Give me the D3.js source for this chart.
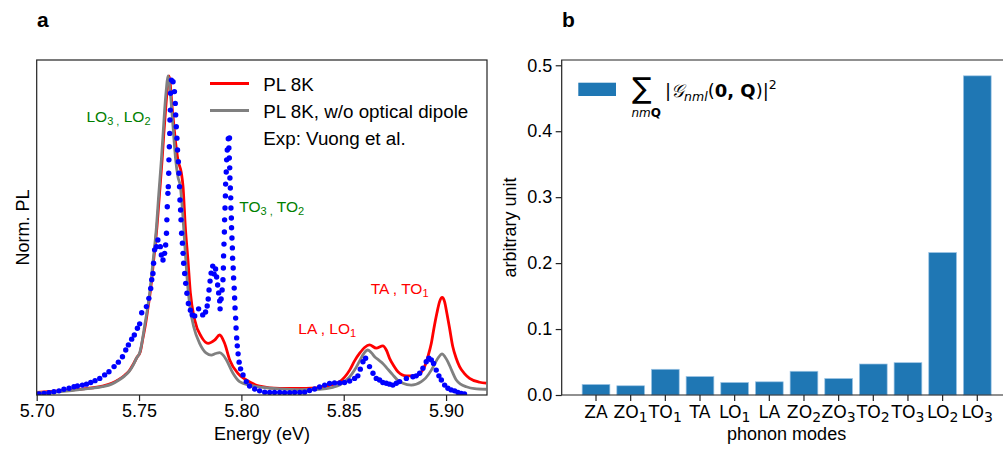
<!DOCTYPE html>
<html>
<head>
<meta charset="utf-8">
<script src="https://cdn.jsdelivr.net/npm/d3@7"></script>
<style>
  body { margin: 0; background: #fff; }
  svg { display: block; font-family: "Liberation Sans", Arial, sans-serif; }
</style>
</head>
<body>
<svg id="fig" width="1003" height="450"></svg>
<script>
// ——— panel a : PL spectra (energy eV, normalised PL)
const plRed = [
  [5.7000,0.008],[5.7073,0.011],[5.7158,0.015],[5.7239,0.020],[5.7321,0.028],[5.7366,0.037],
  [5.7402,0.049],[5.7430,0.062],[5.7451,0.075],[5.7474,0.099],[5.7491,0.119],[5.7506,0.135],
  [5.7520,0.182],[5.7531,0.219],[5.7543,0.270],[5.7555,0.323],[5.7571,0.420],[5.7588,0.530],
  [5.7600,0.630],[5.7613,0.740],[5.7621,0.818],[5.7630,0.897],[5.7638,0.959],[5.7646,1.000],
  [5.7663,0.893],[5.7679,0.789],[5.7690,0.737],[5.7707,0.695],[5.7715,0.653],[5.7726,0.528],
  [5.7739,0.423],[5.7751,0.319],[5.7772,0.235],[5.7804,0.183],[5.7837,0.162],[5.7869,0.172],
  [5.7894,0.188],[5.7918,0.162],[5.7943,0.110],[5.7983,0.068],[5.8024,0.047],[5.8089,0.028],
  [5.8187,0.021],[5.8317,0.021],[5.8415,0.028],[5.8480,0.042],[5.8529,0.078],[5.8553,0.107],
  [5.8578,0.131],[5.8602,0.149],[5.8626,0.157],[5.8659,0.147],[5.8691,0.154],[5.8708,0.141],
  [5.8724,0.115],[5.8744,0.092],[5.8765,0.073],[5.8806,0.060],[5.8854,0.060],[5.8875,0.069],
  [5.8895,0.089],[5.8912,0.122],[5.8928,0.162],[5.8941,0.210],[5.8955,0.256],[5.8968,0.292],
  [5.8981,0.306],[5.8993,0.292],[5.9004,0.256],[5.9017,0.210],[5.9033,0.151],[5.9049,0.116],
  [5.9066,0.089],[5.9090,0.067],[5.9115,0.052],[5.9164,0.040],[5.9196,0.037]
];

const plGray = [
  [5.7000,0.007],[5.7073,0.009],[5.7158,0.013],[5.7239,0.019],[5.7321,0.026],[5.7366,0.034],
  [5.7402,0.047],[5.7430,0.060],[5.7451,0.073],[5.7474,0.097],[5.7488,0.116],[5.7503,0.132],
  [5.7518,0.179],[5.7527,0.216],[5.7540,0.266],[5.7552,0.320],[5.7568,0.417],[5.7585,0.527],
  [5.7596,0.627],[5.7609,0.737],[5.7617,0.815],[5.7625,0.893],[5.7633,0.956],[5.7641,1.000],
  [5.7653,0.946],[5.7666,0.841],[5.7679,0.737],[5.7690,0.684],[5.7702,0.653],[5.7712,0.580],
  [5.7723,0.476],[5.7734,0.371],[5.7751,0.266],[5.7767,0.214],[5.7796,0.162],[5.7829,0.131],
  [5.7853,0.125],[5.7874,0.130],[5.7894,0.133],[5.7911,0.125],[5.7927,0.110],[5.7959,0.068],
  [5.7991,0.042],[5.8040,0.031],[5.8104,0.024],[5.8187,0.019],[5.8285,0.017],[5.8382,0.018],
  [5.8447,0.024],[5.8480,0.031],[5.8513,0.047],[5.8529,0.057],[5.8553,0.078],[5.8578,0.107],
  [5.8597,0.129],[5.8618,0.141],[5.8636,0.132],[5.8651,0.120],[5.8670,0.110],[5.8691,0.099],
  [5.8714,0.082],[5.8740,0.063],[5.8763,0.047],[5.8789,0.037],[5.8830,0.031],[5.8879,0.042],
  [5.8900,0.053],[5.8928,0.078],[5.8944,0.097],[5.8960,0.115],[5.8981,0.129],[5.8995,0.119],
  [5.9009,0.104],[5.9027,0.078],[5.9050,0.047],[5.9071,0.034],[5.9099,0.026],[5.9139,0.020],
  [5.9196,0.018]
];

const expVuong = [
  [5.7011,0.003],[5.7036,0.005],[5.7060,0.007],[5.7084,0.010],[5.7109,0.013],[5.7133,0.018],
  [5.7158,0.021],[5.7182,0.026],[5.7199,0.028],[5.7223,0.031],[5.7243,0.034],[5.7264,0.039],
  [5.7285,0.045],[5.7308,0.052],[5.7332,0.063],[5.7353,0.073],[5.7378,0.089],[5.7399,0.103],
  [5.7419,0.120],[5.7435,0.141],[5.7448,0.157],[5.7464,0.175],[5.7477,0.188],[5.7492,0.209],
  [5.7503,0.223],[5.7513,0.258],[5.7536,0.277],[5.7548,0.303],[5.7557,0.334],[5.7562,0.361],
  [5.7568,0.381],[5.7571,0.413],[5.7576,0.455],[5.7585,0.465],[5.7592,0.486],[5.7604,0.465],
  [5.7609,0.439],[5.7617,0.423],[5.7625,0.444],[5.7630,0.470],[5.7634,0.507],[5.7636,0.549],
  [5.7638,0.590],[5.7641,0.632],[5.7643,0.653],[5.7645,0.695],[5.7646,0.737],[5.7648,0.778],
  [5.7650,0.820],[5.7651,0.862],[5.7653,0.893],[5.7654,0.946],[5.7658,0.987],[5.7666,0.982],
  [5.7673,0.951],[5.7677,0.914],[5.7679,0.878],[5.7682,0.841],[5.7685,0.805],[5.7688,0.768],
  [5.7692,0.731],[5.7695,0.695],[5.7698,0.653],[5.7700,0.611],[5.7703,0.580],[5.7705,0.549],
  [5.7708,0.507],[5.7712,0.476],[5.7715,0.444],[5.7718,0.413],[5.7723,0.381],[5.7728,0.350],
  [5.7734,0.319],[5.7741,0.287],[5.7751,0.266],[5.7760,0.251],[5.7772,0.248],
  [5.7791,0.270],[5.7811,0.251],[5.7825,0.260],[5.7833,0.279],[5.7838,0.301],[5.7842,0.329],
  [5.7847,0.357],[5.7852,0.382],[5.7860,0.404],[5.7867,0.379],[5.7874,0.395],[5.7879,0.370],
  [5.7884,0.345],[5.7889,0.320],[5.7894,0.295],[5.7896,0.270],[5.7901,0.301],[5.7906,0.329],
  [5.7910,0.361],[5.7912,0.398],[5.7913,0.436],[5.7915,0.473],[5.7917,0.511],[5.7918,0.549],
  [5.7920,0.586],[5.7922,0.624],[5.7923,0.661],[5.7926,0.699],[5.7928,0.737],[5.7931,0.768],
  [5.7936,0.803],[5.7939,0.774],[5.7941,0.743],[5.7943,0.712],[5.7944,0.680],[5.7946,0.649],
  [5.7948,0.618],[5.7949,0.586],[5.7951,0.555],[5.7952,0.524],[5.7954,0.492],[5.7956,0.461],
  [5.7957,0.429],[5.7960,0.398],[5.7962,0.367],[5.7965,0.335],[5.7967,0.304],[5.7969,0.273],
  [5.7972,0.241],[5.7974,0.210],[5.7977,0.179],[5.7980,0.154],[5.7984,0.129],[5.7989,0.103],
  [5.7996,0.082],[5.8008,0.063],[5.8024,0.042],[5.8040,0.028],[5.8065,0.019],[5.8089,0.013],
  [5.8114,0.009],[5.8138,0.008],[5.8162,0.008],[5.8187,0.008],[5.8211,0.007],[5.8236,0.007],
  [5.8260,0.008],[5.8285,0.008],[5.8309,0.009],[5.8333,0.014],[5.8358,0.019],[5.8382,0.025],
  [5.8407,0.031],[5.8431,0.036],[5.8455,0.038],[5.8480,0.038],[5.8504,0.039],[5.8529,0.044],
  [5.8553,0.052],[5.8569,0.060],[5.8581,0.081],[5.8594,0.104],[5.8607,0.115],[5.8626,0.089],
  [5.8643,0.068],[5.8659,0.052],[5.8675,0.047],[5.8691,0.039],[5.8708,0.037],[5.8724,0.034],
  [5.8740,0.031],[5.8757,0.037],[5.8773,0.042],[5.8806,0.052],[5.8838,0.057],[5.8854,0.060],
  [5.8871,0.068],[5.8887,0.084],[5.8903,0.104],[5.8916,0.115],[5.8928,0.110],[5.8939,0.099],
  [5.8952,0.078],[5.8965,0.060],[5.8977,0.047],[5.8993,0.031],[5.9009,0.021],[5.9025,0.016],
  [5.9042,0.013],[5.9058,0.008],[5.9074,0.005],[5.9090,0.003]
];

const energyTicks = [5.70, 5.75, 5.80, 5.85, 5.90];

// ——— panel b : coupling strength per phonon mode
const modes = ["ZA","ZO1","TO1","TA","LO1","LA","ZO2","ZO3","TO2","TO3","LO2","LO3"];
const modeValues = [0.016, 0.014, 0.039, 0.028, 0.019, 0.020, 0.036, 0.025, 0.047, 0.049, 0.216, 0.484];
const unitTicks = [0, 0.1, 0.2, 0.3, 0.4, 0.5];

const svg = d3.select("#fig");
const AX = "#222";

// texte avec indices : parts = [[txt, isSub], ...]
function subText(t, parts, subSize, shift) {
  let low = false;
  parts.forEach(([s, sub]) => {
    const ts = t.append("tspan").text(s);
    if (sub && !low) { ts.attr("dy", shift).attr("font-size", subSize); low = true; }
    else if (sub) { ts.attr("font-size", subSize); }
    else if (!sub && low) { ts.attr("dy", -shift); low = false; }
  });
  return t;
}

// ================= panel a
const xa = d3.scaleLinear().domain([5.70, 5.92]).range([36.7, 487]);
const ya = d3.scaleLinear().domain([0, 1.05]).range([395, 60]);

svg.append("clipPath").attr("id", "clipA")
  .append("rect").attr("x", 36.7).attr("y", 60).attr("width", 450.3).attr("height", 335);

const ga = svg.append("g");
const plot = ga.append("g").attr("clip-path", "url(#clipA)");
const line = d3.line().x(d => xa(d[0])).y(d => ya(d[1])).curve(d3.curveMonotoneX);

plot.append("path").datum(plRed).attr("d", line)
  .attr("fill", "none").attr("stroke", "red").attr("stroke-width", 2.8);
plot.append("path").datum(plGray).attr("d", line)
  .attr("fill", "none").attr("stroke", "#808080").attr("stroke-width", 2.8);
plot.selectAll("circle").data(expVuong).enter().append("circle")
  .attr("cx", d => xa(d[0])).attr("cy", d => ya(d[1])).attr("r", 2.7).attr("fill", "blue");

ga.append("rect").attr("x", 36.7).attr("y", 60).attr("width", 450.3).attr("height", 335)
  .attr("fill", "none").attr("stroke", AX).attr("stroke-width", 1.2);

const axA = ga.append("g").attr("transform", "translate(0,395)")
  .call(d3.axisBottom(xa).tickValues(energyTicks).tickFormat(d3.format(".2f"))
    .tickSize(6).tickPadding(3.5).tickSizeOuter(0));
axA.select(".domain").remove();
axA.selectAll("line").attr("stroke", AX).attr("stroke-width", 1.2);
axA.selectAll("text").attr("font-size", 18).attr("font-family", "Liberation Sans, Arial, sans-serif").attr("fill", "#000");

ga.append("text").attr("x", 261.9).attr("y", 440).attr("text-anchor", "middle")
  .attr("font-size", 18).text("Energy (eV)");
ga.append("text").attr("transform", "translate(29,227.5) rotate(-90)").attr("text-anchor", "middle")
  .attr("font-size", 18).text("Norm. PL");
svg.append("text").attr("x", 37).attr("y", 27).attr("font-size", 21).attr("font-weight", "bold").text("a");

// légende a
const legA = [
  { label: "PL 8K", color: "red", y: 83.5 },
  { label: "PL 8K, w/o optical dipole", color: "#808080", y: 110.5 }
];
legA.forEach(d => {
  ga.append("line").attr("x1", 210).attr("x2", 249).attr("y1", d.y).attr("y2", d.y)
    .attr("stroke", d.color).attr("stroke-width", 2.8);
  ga.append("text").attr("x", 263.3).attr("y", d.y + 7).attr("font-size", 18.8).text(d.label);
});
ga.append("circle").attr("cx", 229.5).attr("cy", 138).attr("r", 2.7).attr("fill", "blue");
ga.append("text").attr("x", 263.3).attr("y", 144.5).attr("font-size", 18.8).text("Exp: Vuong et al.");

// annotations des pics
const notes = [
  { x: 86.5, y: 121.5, color: "green", parts: [["LO"],["3",1],[" ,",1],[" LO"],["2",1]] },
  { x: 239.3, y: 211.5, color: "green", parts: [["TO"],["3",1],[" ,",1],[" TO"],["2",1]] },
  { x: 298.3, y: 334.3, color: "red", parts: [["LA , LO"],["1",1]] },
  { x: 370.7, y: 294.3, color: "red", parts: [["TA , TO"],["1",1]] }
];
notes.forEach(n => {
  const t = ga.append("text").attr("x", n.x).attr("y", n.y).attr("fill", n.color).attr("font-size", 15.5);
  subText(t, n.parts, 11, 3);
});

// ================= panel b
const xb = d3.scaleBand().domain(modes).range([561.7, 1011.6]).paddingInner(0.2).paddingOuter(0.59);
const yb = d3.scaleLinear().domain([0, 0.508]).range([395, 60]);
const gb = svg.append("g");

gb.selectAll(".bar").data(modes).enter().append("rect").attr("class", "bar")
  .attr("x", d => xb(d)).attr("width", xb.bandwidth())
  .attr("y", (d, i) => yb(modeValues[i])).attr("height", (d, i) => yb(0) - yb(modeValues[i]))
  .attr("fill", "#1f77b4").attr("stroke", "#9cc4e4").attr("stroke-width", 0.7);

gb.append("path").attr("d", "M1011.6,60H561.7V395H1011.6")
  .attr("fill", "none").attr("stroke", AX).attr("stroke-width", 1.2);

const ayB = gb.append("g").attr("transform", "translate(561.7,0)")
  .call(d3.axisLeft(yb).tickValues(unitTicks).tickFormat(d3.format(".1f"))
    .tickSize(6).tickPadding(3.5).tickSizeOuter(0));
ayB.select(".domain").remove();
ayB.selectAll("line").attr("stroke", AX).attr("stroke-width", 1.2);
ayB.selectAll("text").attr("font-size", 18).attr("font-family", "Liberation Sans, Arial, sans-serif").attr("fill", "#000");

const axB = gb.append("g").attr("transform", "translate(0,395)")
  .call(d3.axisBottom(xb).tickSize(6).tickFormat("").tickSizeOuter(0));
axB.select(".domain").remove();
axB.selectAll("line").attr("stroke", AX).attr("stroke-width", 1.2);
axB.selectAll(".tick text").remove();
axB.selectAll(".tick").each(function (d) {
  const m = d.match(/^([A-Z]+)(\d?)$/);
  const t = d3.select(this).append("text").attr("y", 23.3).attr("text-anchor", "middle")
    .attr("font-family", "DejaVu Sans, sans-serif").attr("font-size", 17.2).attr("fill", "#000");
  subText(t, m[2] ? [[m[1]], [m[2], 1]] : [[m[1]]], 14, 3.5);
});

gb.append("text").attr("x", 786.6).attr("y", 439.5).attr("text-anchor", "middle")
  .attr("font-size", 18).text("phonon modes");
gb.append("text").attr("transform", "translate(516,227.5) rotate(-90)").attr("text-anchor", "middle")
  .attr("font-size", 18).text("arbitrary unit");
svg.append("text").attr("x", 562).attr("y", 27).attr("font-size", 21).attr("font-weight", "bold").text("b");

// légende b : ∑_nmQ |G_nml(0,Q)|²
gb.append("rect").attr("x", 578.3).attr("y", 82.7).attr("width", 37.7).attr("height", 13.3).attr("fill", "#1f77b4");
const fm = gb.append("g").attr("font-family", "DejaVu Sans, sans-serif").attr("fill", "#000");
fm.append("text").attr("x", 632).attr("y", 98).attr("font-size", 29).text("\u2211");
const sb = fm.append("text").attr("x", 631.5).attr("y", 116.5).attr("font-size", 12);
sb.append("tspan").attr("font-style", "italic").text("nm");
sb.append("tspan").attr("font-weight", "bold").text("Q");
const ft = fm.append("text").attr("x", 665).attr("y", 96.5).attr("font-size", 18);
ft.append("tspan").text("|");
ft.append("tspan").attr("font-style", "italic").text("\uD835\uDCA2");
ft.append("tspan").attr("font-style", "italic").attr("font-size", 12.5).attr("dy", 4).text("nml");
ft.append("tspan").attr("dy", -4).text("(");
ft.append("tspan").attr("font-weight", "bold").text("0, Q");
ft.append("tspan").text(")|");
ft.append("tspan").attr("font-size", 12.5).attr("dy", -8).text("2");
</script>
</body>
</html>
